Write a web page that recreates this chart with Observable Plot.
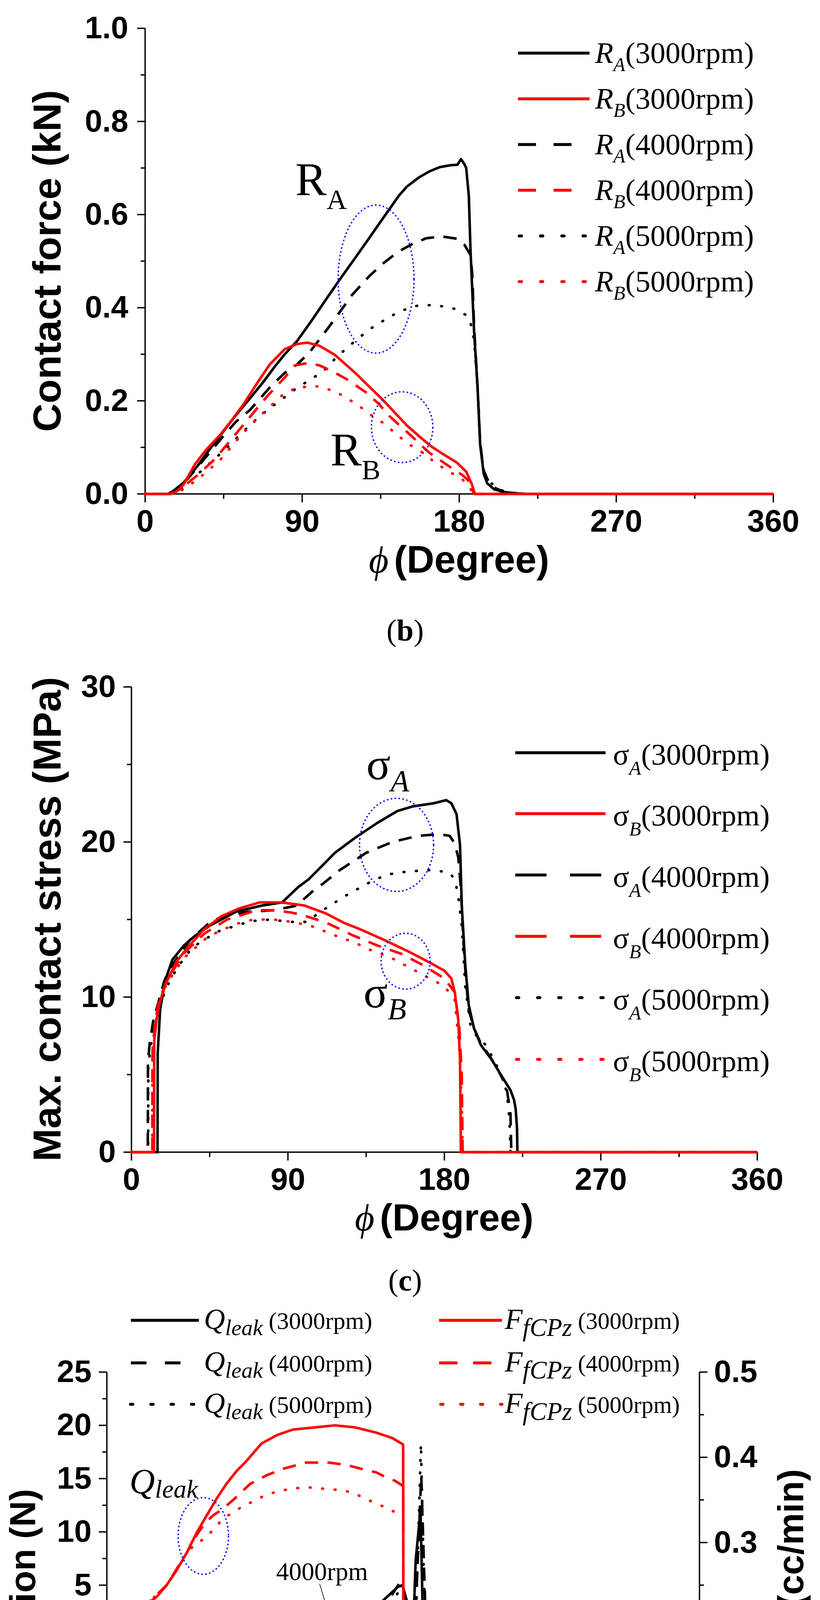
<!DOCTYPE html>
<html>
<head>
<meta charset="utf-8">
<script src="https://cdn.jsdelivr.net/npm/d3@7"></script>
<script src="https://cdn.jsdelivr.net/npm/@observablehq/plot@0.6"></script>
<style>
  body { margin: 0; background: #fff; }
  #fig { position: relative; width: 2099px; height: 4986px; background: #fff; }
</style>
</head>
<body>
<div id="fig"></div>
<script>
// ---- panel (b): contact force, kN -------------------------------------
const RA_3000 = [[0,0],[13,0],[16,0.006],[22,0.024],[30,0.06],[37,0.096],[45,0.135],[52,0.169],[60,0.205],[67,0.237],[74,0.272],[80,0.3],[87,0.328],[95,0.37],[105,0.425],[112,0.463],[120,0.505],[127,0.542],[135,0.585],[145.5,0.641],[150,0.66],[157,0.68],[163,0.693],[169,0.702],[175,0.706],[179,0.707],[181,0.719],[183,0.708],[184,0.7],[185.5,0.64],[186.5,0.52],[188.5,0.35],[190.5,0.23],[192,0.106],[194,0.044],[196,0.023],[200,0.01],[205.5,0.004],[214,0.001],[220,0],[360,0]];
const RB_3000 = [[0,0],[14,0],[18,0.005],[22,0.02],[28.6,0.064],[35,0.095],[42.8,0.126],[50,0.16],[57,0.196],[64,0.237],[71.4,0.278],[80,0.311],[87,0.322],[93,0.325],[100,0.318],[108.6,0.299],[115,0.278],[121,0.258],[128,0.232],[135.7,0.204],[143,0.175],[150,0.147],[157,0.124],[164,0.102],[171,0.085],[178.4,0.068],[184,0.048],[187,0.023],[189,0],[360,0]];
const RA_4000 = [[0,0],[14,0],[18,0.008],[25,0.035],[35,0.08],[45,0.125],[52,0.155],[60,0.18],[71.5,0.229],[80,0.26],[87,0.278],[94,0.303],[105,0.357],[112,0.393],[118.5,0.427],[128.5,0.468],[137,0.497],[145,0.52],[152.7,0.536],[161,0.549],[170,0.553],[179,0.548],[183,0.535],[186.5,0.513],[187.5,0.47],[188.5,0.36],[190.5,0.23],[192,0.11],[194,0.05],[197,0.025],[201,0.012],[206,0.004],[212,0],[360,0]];
const RB_4000 = [[0,0],[15,0],[20,0.01],[30,0.04],[40,0.075],[50,0.12],[60,0.165],[70,0.21],[80,0.25],[85.8,0.276],[93,0.281],[100,0.276],[108,0.262],[115.7,0.246],[127,0.217],[134,0.193],[140,0.167],[151,0.13],[162.7,0.089],[175.5,0.056],[182,0.04],[185,0.03],[187,0.013],[188.5,0],[360,0]];
const RA_5000 = [[0,0],[15,0],[20,0.008],[30,0.042],[41.5,0.081],[47.9,0.103],[54,0.126],[65.6,0.167],[72.8,0.188],[80,0.208],[87,0.228],[95,0.246],[102.8,0.266],[109,0.291],[116.4,0.316],[122.7,0.336],[130,0.357],[137.8,0.375],[145.7,0.392],[155.6,0.404],[166,0.406],[177,0.398],[185,0.382],[187,0.36],[188.5,0.33],[190.5,0.23],[192,0.11],[194,0.05],[197,0.028],[201,0.014],[206,0.005],[214,0],[360,0]];
const RB_5000 = [[0,0],[16,0],[22,0.01],[30,0.031],[42.8,0.072],[54,0.122],[65.6,0.167],[78.6,0.212],[87,0.229],[98.5,0.231],[108.6,0.221],[116.4,0.204],[124,0.185],[130,0.168],[137,0.151],[144,0.128],[151,0.107],[158.5,0.09],[166,0.068],[173.5,0.049],[181,0.034],[185,0.02],[187,0.008],[188,0],[360,0]];

// ---- panel (c): max. contact stress, MPa ------------------------------
const SA_3000 = [[0,0],[15,0],[15.1,6.4],[16.5,9.2],[19.5,11.1],[23.5,12.4],[30,13.3],[36,13.9],[45,14.6],[60,15.5],[75,15.9],[86.6,16.1],[96,17.1],[102,17.6],[110,18.5],[117,19.3],[129,20.3],[141,21.2],[153,22.0],[162,22.3],[174,22.5],[181,22.7],[184,22.5],[187,21.8],[189,19.8],[190,15.9],[192,12.1],[194,9.5],[197,8.0],[201,6.9],[207,6.0],[213,4.9],[218,4.0],[220,3.4],[221,2.8],[221.8,1.5],[222,0],[360,0]];
const SB_3000 = [[0,0],[13,0],[13.1,7.2],[14.5,8.6],[16.5,9.75],[19.5,10.8],[21.6,11.3],[26,12.3],[31.6,13.1],[41.6,14.35],[51.6,15.2],[61.6,15.7],[73.6,16.1],[86.6,16.1],[99.6,15.9],[111.7,15.4],[122,14.8],[132,14.35],[147,13.6],[160,12.9],[172,12.2],[180,11.7],[184,11.2],[186,10.3],[188,8.5],[189,6],[189.5,0],[360,0]];
const SA_4000 = [[0,0],[9.4,0],[9.5,5.9],[10.5,7.0],[12.4,8.4],[15.7,9.75],[18.8,11.0],[21.8,11.8],[26.3,12.5],[33.8,13.7],[44,14.7],[52,15.2],[67,15.5],[82,15.6],[95,15.9],[105,16.9],[110,17.3],[120,18.2],[135,19.3],[150,20.0],[165,20.4],[177,20.5],[183,20.4],[186,19.9],[188,19.0],[189.5,17.0],[191,13.5],[192.5,11],[194,9.2],[197,8.0],[201,7.0],[206,6.2],[210,5.5],[214,4.6],[216,4.0],[218,2.5],[218.5,0],[360,0]];
const SB_4000 = [[0,0],[12,0],[12.1,6.5],[13.5,8.3],[15.5,9.6],[20,11.0],[30,12.8],[42,14.1],[55,15.0],[72,15.6],[82,15.6],[92,15.45],[98,15.3],[112,14.8],[127,14.0],[142,13.3],[155,12.8],[167,12.1],[180,11.2],[186,10.3],[188.5,8.2],[190,5],[190.5,0],[360,0]];
const SA_5000 = [[0,0],[9.6,0],[9.7,5.5],[11,6.8],[13,8.0],[16,9.3],[20,10.6],[27,12.0],[35,13.2],[49,14.2],[60,14.6],[69,14.9],[80,15.0],[91,14.85],[101,14.85],[108,15.45],[115.7,16.0],[121,16.4],[129,16.9],[137,17.4],[147,17.9],[159,18.1],[174,18.2],[183,18.0],[186,17.6],[188,16.5],[190,14.6],[192,10.7],[195,8.2],[199,7.4],[204,6.9],[210,5.6],[214,4.6],[216,3.8],[217.5,2],[218,0],[360,0]];
const SB_5000 = [[0,0],[12,0],[12.1,6],[13.5,8],[15,9.3],[20,10.8],[30,12.5],[44,13.9],[59.6,14.7],[70,15.0],[82,15.0],[92,14.85],[103,14.6],[112,14.2],[121,13.8],[128,13.55],[136,13.1],[150,12.5],[165,11.6],[180,10.7],[186,9.8],[188.5,6.9],[190,3],[190.5,0],[360,0]];

// ---- panel (d): leakage (cc/min, right axis) and friction (N, left axis)
const Q_3000 = [[0,0],[3,0.008],[7.3,0.036],[10.9,0.093],[14.5,0.148],[18.2,0.183],[21.8,0.16],[26.6,0.145],[31.5,0.135],[36.3,0.125],[42.4,0.108],[48.4,0.093],[54.5,0.074],[60.5,0.061],[65.4,0.053],[70.2,0.061],[75,0.076],[82.3,0.1],[87.2,0.118],[90.8,0.135],[95.6,0.148],[101.7,0.16],[109,0.17],[116,0.175],[121,0.179],[128,0.185],[137,0.191],[141.6,0.198],[151,0.206],[161,0.22],[169.5,0.235],[176.8,0.248],[179.5,0.25],[182,0.233],[184.6,0.218],[186.4,0.213],[187.6,0.279],[190.5,0.338],[192.4,0.175],[193,0.118],[194.3,0.093],[196.7,0.074],[200.3,0.065],[203.3,0.061],[208.7,0.069],[220.9,0.09],[233,0.108],[245,0.121],[257,0.129],[269.4,0.131],[281.5,0.129],[293.6,0.12],[305.8,0.108],[317.9,0.09],[330,0.066],[342.2,0.044],[354.3,0.019],[360,0]];
const Q_4000 = [[0,0],[4.8,0.003],[8.5,0.046],[12,0.105],[15.7,0.155],[18.2,0.18],[21.8,0.153],[26.6,0.133],[32.7,0.11],[38.7,0.09],[46,0.066],[50.8,0.054],[56.9,0.039],[63,0.031],[67.8,0.033],[72.6,0.041],[78.7,0.059],[84.7,0.074],[92,0.093],[99.3,0.105],[106.5,0.115],[113.8,0.125],[121,0.135],[128,0.145],[135.6,0.158],[142.9,0.173],[150,0.188],[157.4,0.2],[164.6,0.218],[172,0.235],[178,0.253],[180,0.248],[182,0.219],[184,0.194],[186,0.181],[188,0.238],[191,0.379],[193,0.25],[194.5,0.163],[196.7,0.123],[200.3,0.105],[204.5,0.1],[208.7,0.108],[221,0.13],[233,0.15],[245,0.163],[257,0.171],[269.4,0.177],[278,0.178],[287.6,0.17],[293.6,0.164],[305.8,0.145],[317.9,0.123],[330,0.088],[336,0.071],[344.7,0.049],[354.3,0.021],[360,0]];
const Q_5000 = [[0,0],[6,0.002],[12,0.069],[17,0.168],[18.2,0.178],[20.6,0.155],[24.2,0.125],[29,0.098],[35,0.066],[41.2,0.036],[48.4,0.021],[54.5,0.009],[60.5,0.003],[65.4,0.005],[72.6,0.016],[80,0.024],[87.2,0.036],[94.4,0.049],[101.7,0.061],[109,0.079],[116,0.095],[123.5,0.11],[130.8,0.123],[138,0.138],[145.3,0.155],[152.5,0.173],[160,0.193],[167,0.213],[174.3,0.233],[178,0.245],[180,0.249],[182,0.225],[184,0.2],[186,0.175],[188,0.225],[190.8,0.416],[192.5,0.263],[194,0.181],[195.5,0.168],[199,0.15],[206.4,0.143],[213.7,0.153],[221,0.165],[230.7,0.193],[239,0.204],[246.5,0.213],[255,0.221],[264.7,0.226],[275.6,0.225],[284,0.218],[291.5,0.208],[297.5,0.195],[302.3,0.185],[308.4,0.173],[313.3,0.158],[318,0.143],[323,0.128],[328,0.113],[332.7,0.096],[337,0.08],[342,0.065],[346,0.051],[350.5,0.035],[356,0.016],[360,0]];
const F_3000 = [[0,0],[6,0.5],[12,1.5],[18.2,2.6],[24.2,3.2],[30.3,3.9],[36.3,5.0],[42.4,6.4],[48.4,8.0],[54.5,9.9],[60.5,11.5],[66.6,13.1],[72.6,14.5],[78.7,15.7],[84.5,16.6],[94,18.3],[103.6,19.1],[113,19.6],[126,19.8],[138.5,20.0],[151,19.8],[164,19.3],[173.5,18.8],[180,18.2],[180.2,-13.4],[185.8,-13.4],[187,-12.5],[188.2,-9.7],[190.7,-4.6],[192.5,-1.6],[194.3,-0.8],[199,-0.3],[204,-0.2],[233,-0.36],[269,-0.44],[293.5,-0.36],[317.7,-0.24],[342,-0.1],[360,0.04]];
const F_4000 = [[0,0],[12,1.5],[24.2,3.2],[36.3,5.0],[48.4,8.0],[54.5,9.7],[60,10.9],[65,11.6],[70,12.1],[77.5,13.1],[87,14.5],[96.9,15.3],[106.5,15.9],[121,16.5],[135,16.5],[145,16.3],[157.6,15.8],[163.4,15.6],[170,15.1],[175,14.8],[180,14.3],[180.2,-9.3],[186,-9.3],[188,-7.5],[190.7,-4.0],[192.5,-1.8],[195,-0.9],[200,-0.7],[233,-0.7],[269,-0.7],[293,-0.6],[320,-0.35],[342,-0.15],[360,0]];
const F_5000 = [[0,0],[12,1.5],[24.2,3.2],[36.3,5.0],[48.4,8.0],[54.5,9.0],[59,9.3],[64,10.1],[71,11.3],[77.5,11.9],[83.5,12.5],[89.6,12.9],[96.9,13.5],[106.5,13.9],[115,14.1],[121,14.2],[128,14.1],[135.6,14.0],[142.9,13.9],[149,13.7],[156,13.2],[163,12.7],[170.7,12.2],[178,11.6],[180,11.4],[180.2,-6.0],[186,-6.0],[188,-4.5],[190.7,-3.0],[192.5,-1.5],[195,-0.9],[200,-0.7],[269,-0.7],[293,-0.6],[320,-0.35],[342,-0.15],[360,0]];

// ---- ticks, annotations -------------------------------------------------
const phiTicks = [0, 90, 180, 270, 360];
const phiMinor = [45, 135, 225, 315];
const forceTicks = [0, 0.2, 0.4, 0.6, 0.8, 1.0];
const forceMinor = [0.1, 0.3, 0.5, 0.7, 0.9];
const stressTicks = [0, 10, 20, 30];
const stressMinor = [5, 15, 25];
const frictionTicks = [-15, -10, -5, 0, 5, 10, 15, 20, 25];
const frictionMinor = [-12.5, -7.5, -2.5, 2.5, 7.5, 12.5, 17.5, 22.5];
const leakTicks = [0, 0.1, 0.2, 0.3, 0.4, 0.5];
const leakMinor = [0.05, 0.15, 0.25, 0.35, 0.45];

const ellipsesB = [{phi: [110.7, 154.2], val: [0.302, 0.62]}, {phi: [129.8, 165.0], val: [0.067, 0.219]}];
const ellipsesC = [{phi: [131.3, 173.9], val: [16.8, 22.8]}, {phi: [143.7, 171.9], val: [10.5, 14.1]}];
const ellipsesD = [{phi: [43.4, 74.0], val: [6.0, 13.2]}, {phi: [317.2, 348.0], val: [-12.35, -5.15]}];

const annotB = [{phi: 86.2, val: 0.641, main: "R", sub: "A"}, {phi: 106.3, val: 0.06, main: "R", sub: "B"}];
const annotC = [{phi: 135.2, val: 24.04, main: "σ", sub: "A"}, {phi: 133.6, val: 9.32, main: "σ", sub: "B"}];
const annotQ = [{phi: 13.9, val: 13.6, main: "Q", sub: "leak"}];
const annotF = [{phi: 279, val: -12.2, main: "F", sub: "fCPz"}];
const rpmLabels = [{phi: 61.7, val: 1.85, text: "3000rpm"}, {phi: 102.9, val: 5.47, text: "4000rpm"}, {phi: 119.9, val: -9.96, text: "5000rpm"}];
const rpmArrows = [{phi1: 95.6, val1: 1.2, phi2: 102.3, val2: -1.9}, {phi1: 129.3, val1: 5.1, phi2: 141.6, val2: -1.2}, {phi1: 141.6, val1: -8.75, phi2: 128.3, val2: -5.5}];

const rpms = ["3000rpm", "4000rpm", "5000rpm"];

// ---- drawing ------------------------------------------------------------
const W = 2099, H = 4986;
const sans = "'Liberation Sans', Arial, sans-serif";
const serif = "'Liberation Serif', 'Times New Roman', serif";
const RED = "#ff0000";
const LW = 6.5;
const dashOf = {"3000rpm": undefined, "4000rpm": "34,24", "5000rpm": "2,30"};
const fig = document.getElementById("fig");

// leakage is drawn on the friction scale: 0..0.5 cc/min -> -15..25 N
const leakToF = v => -15 + 80 * v;

function curve(pairs, rpm, color, toY = v => v) {
  return Plot.line(pairs, {
    x: d => d[0], y: d => toY(d[1]),
    stroke: color, strokeWidth: LW,
    strokeDasharray: dashOf[rpm],
    strokeLinecap: rpm === "5000rpm" ? "round" : "butt",
    strokeLinejoin: "round"
  });
}

function axes(yMajor, yMinor, yFormat, pad) {
  const t = {fontSize: 80, fontFamily: sans, fontWeight: "bold", label: null, strokeWidth: 3.5};
  return [
    Plot.axisX({...t, ticks: phiTicks, tickSize: 22, tickPadding: 18, tickFormat: d => String(d)}),
    Plot.axisX({...t, ticks: phiMinor, tickSize: 13, tickFormat: () => ""}),
    Plot.axisY({...t, ticks: yMajor, tickSize: 20, tickPadding: pad, tickFormat: yFormat}),
    Plot.axisY({...t, ticks: yMinor, tickSize: 11, tickFormat: () => ""})
  ];
}

// dotted blue ellipses, bounds given in data units
function ellipseMark(list) {
  return (index, {x, y}) => {
    const g = d3.create("svg:g").attr("fill", "none").attr("stroke", "#0000ff")
      .attr("stroke-width", 3.5).attr("stroke-dasharray", "4,6");
    for (const e of list) {
      const x1 = x(e.phi[0]), x2 = x(e.phi[1]), y1 = y(e.val[0]), y2 = y(e.val[1]);
      g.append("ellipse").attr("cx", (x1 + x2) / 2).attr("cy", (y1 + y2) / 2)
        .attr("rx", Math.abs(x2 - x1) / 2).attr("ry", Math.abs(y2 - y1) / 2);
    }
    return g.node();
  };
}

// symbol with subscript, anchored (left, baseline) at a data point
function subLabel(list, mainSize, subSize, subDy, mainItalic, subItalic) {
  return (index, {x, y}) => {
    const g = d3.create("svg:g").attr("font-family", serif).attr("font-weight", "normal")
      .attr("text-anchor", "start").attr("fill", "black");
    for (const a of list) {
      const t = g.append("text").attr("x", x(a.phi)).attr("y", y(a.val));
      t.append("tspan").attr("font-size", mainSize).attr("font-style", mainItalic ? "italic" : "normal").text(a.main);
      t.append("tspan").attr("font-size", subSize).attr("font-style", subItalic ? "italic" : "normal").attr("dy", subDy).text(a.sub);
    }
    return g.node();
  };
}

function panel(top, height, m, yDomain, marks) {
  const svg = Plot.plot({
    width: W, height,
    marginTop: m[0], marginRight: m[1], marginBottom: m[2], marginLeft: m[3],
    x: {domain: [0, 360]},
    y: {domain: yDomain},
    style: {background: "transparent", overflow: "visible", fontFamily: sans, fontWeight: "bold", color: "black"},
    marks
  });
  svg.style.position = "absolute";
  svg.style.left = "0px";
  svg.style.top = top + "px";
  fig.appendChild(svg);
}

// (b)
panel(0, 1560, [72, 120, 296, 371], [0, 1], [
  Plot.ruleX([0], {strokeWidth: 3.5}),
  Plot.ruleY([0], {strokeWidth: 3.5}),
  ...axes(forceTicks, forceMinor, d => d.toFixed(1), 23),
  curve(RA_3000, rpms[0], "black"), curve(RA_4000, rpms[1], "black"), curve(RA_5000, rpms[2], "black"),
  curve(RB_3000, rpms[0], RED), curve(RB_4000, rpms[1], RED), curve(RB_5000, rpms[2], RED),
  ellipseMark(ellipsesB),
  subLabel(annotB, 120, 72, 35, false, false)
]);

// (c)
panel(1680, 1560, [78, 161, 291, 336], [0, 30], [
  Plot.ruleX([0], {strokeWidth: 3.5}),
  Plot.ruleY([0], {strokeWidth: 3.5}),
  ...axes(stressTicks, stressMinor, d => String(d), 20),
  curve(SA_3000, rpms[0], "black"), curve(SA_4000, rpms[1], "black"), curve(SA_5000, rpms[2], "black"),
  curve(SB_3000, rpms[0], RED), curve(SB_4000, rpms[1], RED), curve(SB_5000, rpms[2], RED),
  ellipseMark(ellipsesC),
  subLabel(annotC, 115, 78, 30, false, true)
]);

// (d)
panel(3420, 1400, [92, 309, 217, 273], [-15, 25], [
  Plot.ruleX([0, 360], {strokeWidth: 3.5}),
  Plot.ruleY([-15], {strokeWidth: 3.5}),
  ...axes(frictionTicks, frictionMinor, d => String(d), 19),
  Plot.axisY({anchor: "right", ticks: leakTicks.map(leakToF), tickSize: 20, tickPadding: 17,
    tickFormat: d => ((d + 15) / 80).toFixed(1), fontSize: 80, fontFamily: sans, fontWeight: "bold", label: null, strokeWidth: 3.5}),
  Plot.axisY({anchor: "right", ticks: leakMinor.map(leakToF), tickSize: 11, tickFormat: () => "", label: null, strokeWidth: 3.5}),
  curve(Q_3000, rpms[0], "black", leakToF), curve(Q_4000, rpms[1], "black", leakToF), curve(Q_5000, rpms[2], "black", leakToF),
  curve(F_3000, rpms[0], RED), curve(F_4000, rpms[1], RED), curve(F_5000, rpms[2], RED),
  ellipseMark(ellipsesD),
  Plot.arrow(rpmArrows, {x1: "phi1", y1: "val1", x2: "phi2", y2: "val2", stroke: "black", strokeWidth: 1.6, headLength: 22, headAngle: 28}),
  Plot.text(rpmLabels, {x: "phi", y: "val", text: "text", fontFamily: serif, fontWeight: "normal", fontSize: 65, textAnchor: "start", lineAnchor: "bottom", fill: "black"}),
  subLabel(annotQ, 90, 66, 11, true, true),
  subLabel(annotF, 88, 68, 25, true, true)
]);

// ---- overlay: axis titles, legends, captions ----------------------------
const ov = d3.select(fig).append("svg").attr("width", W).attr("height", H)
  .style("position", "absolute").style("left", "0px").style("top", "0px");

function yTitle(x, y, text, size) {
  ov.append("text").attr("transform", `translate(${x},${y}) rotate(-90)`).attr("text-anchor", "middle")
    .attr("font-family", sans).attr("font-weight", "bold").attr("font-size", size).text(text);
}
function phiTitle(cx, y, size) {
  const t = ov.append("text").attr("x", cx).attr("y", y).attr("text-anchor", "middle")
    .attr("font-family", sans).attr("font-weight", "bold").attr("font-size", size);
  t.append("tspan").attr("font-family", serif).attr("font-style", "italic").attr("font-weight", "normal").text("ϕ");
  t.append("tspan").attr("dx", size * 0.14).text("(Degree)");
}
function caption(cx, y, letter) {
  const t = ov.append("text").attr("x", cx).attr("y", y).attr("text-anchor", "middle")
    .attr("font-family", serif).attr("font-size", 78);
  t.append("tspan").text("(");
  t.append("tspan").attr("font-weight", "bold").text(letter);
  t.append("tspan").text(")");
}
function sample(x0, x1, y, color, rpm, dashPat, dotPat) {
  const l = ov.append("line").attr("x1", x0).attr("x2", x1).attr("y1", y).attr("y2", y)
    .attr("stroke", color).attr("stroke-width", 7.5);
  if (rpm === "4000rpm") l.attr("stroke-dasharray", dashPat);
  if (rpm === "5000rpm") l.attr("stroke-dasharray", dotPat).attr("stroke-linecap", "round");
}
function legendText(x, y, main, sub, rest, sz, mainItalic, gap) {
  const t = ov.append("text").attr("x", x).attr("y", y).attr("font-family", serif).attr("font-size", sz.rest);
  t.append("tspan").attr("font-size", sz.main).attr("font-style", mainItalic ? "italic" : "normal").text(main);
  t.append("tspan").attr("font-size", sz.sub).attr("font-style", "italic").attr("dy", sz.dy).text(sub);
  t.append("tspan").attr("dy", -sz.dy).attr("dx", gap).text(rest);
}

yTitle(155, 668, "Contact force (kN)", 101);
phiTitle(1175, 1466, 98);
yTitle(155, 2353, "Max. contact stress (MPa)", 101);
phiTitle(1137, 3150, 97);
yTitle(90, 4057, "Friction (N)", 92);
yTitle(2056, 4134, "Leakage (cc/min)", 92);
phiTitle(1031, 4799, 92);

caption(1037, 1640, "b");
caption(1037, 3304, "c");
caption(1037, 4947, "d");

// legend (b)
const rowsB = [136, 253, 370, 487, 604, 721];
["A", "B"].forEach((s, j) => rpms.forEach((rpm, i) => {
  const y = rowsB[i * 2 + j];
  const color = s === "A" ? "black" : RED;
  const x1 = rpm === "4000rpm" ? 1464 : 1509;
  sample(rpm === "5000rpm" ? 1329 : 1326, x1, y, color, rpm, "46,45", "6,48.5");
  legendText(1523, y + 25, "R", s, `(${rpm})`, {main: 77, sub: 50, rest: 77, dy: 21}, true, 0);
}));

// legend (c)
const rowsC = [1927, 2083, 2240, 2397, 2554, 2712];
["A", "B"].forEach((s, j) => rpms.forEach((rpm, i) => {
  const y = rowsC[i * 2 + j];
  const color = s === "A" ? "black" : RED;
  const x1 = rpm === "4000rpm" ? 1539 : 1550;
  sample(rpm === "5000rpm" ? 1322 : 1319, x1, y, color, rpm, "80,60", "6,48");
  legendText(1569, y + 30, "σ", s, `(${rpm})`, {main: 77, sub: 50, rest: 77, dy: 26}, false, 0);
}));

// legend (d)
const rowsD = [3380, 3489, 3595];
rpms.forEach((rpm, i) => {
  const y = rowsD[i];
  sample(rpm === "5000rpm" ? 334 : 335, rpm === "4000rpm" ? 462 : 509, y, "black", rpm, "40,47", "6,46");
  legendText(522, y + 22, "Q", "leak", `(${rpm})`, {main: 75, sub: 58, rest: 62, dy: 16}, true, 15);
  sample(rpm === "5000rpm" ? 1128 : 1124, rpm === "4000rpm" ? 1258 : 1285, y, RED, rpm, "47,40", "6,45");
  legendText(1292, y + 22, "F", "fCPz", `(${rpm})`, {main: 75, sub: 65, rest: 61, dy: 18}, true, 15);
});
</script>
</body>
</html>
